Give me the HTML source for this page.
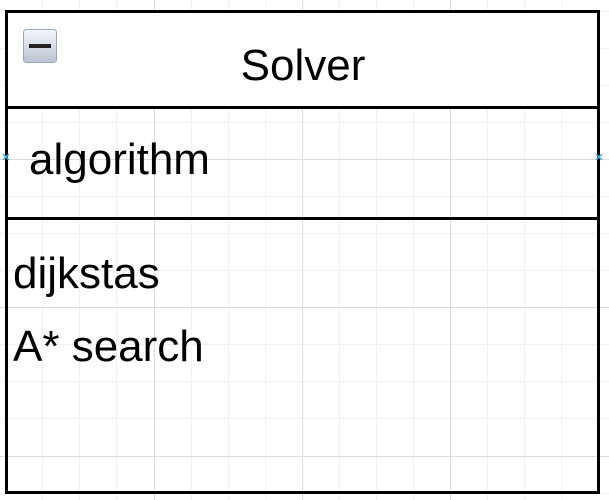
<!DOCTYPE html>
<html><head><meta charset="utf-8"><style>
html,body{margin:0;padding:0;background:#fff;width:609px;height:500px;overflow:hidden}
svg{display:block}
text{font-family:"Liberation Sans",Arial,sans-serif;font-size:44px;fill:#000}
</style></head><body>
<svg width="609" height="500" xmlns="http://www.w3.org/2000/svg">
<g stroke="#f1f1f1" stroke-width="1">
<line x1="42.5" y1="0" x2="42.5" y2="500"/><line x1="79.5" y1="0" x2="79.5" y2="500"/><line x1="116.5" y1="0" x2="116.5" y2="500"/>
<line x1="191.5" y1="0" x2="191.5" y2="500"/><line x1="228.5" y1="0" x2="228.5" y2="500"/><line x1="265.5" y1="0" x2="265.5" y2="500"/>
<line x1="339.5" y1="0" x2="339.5" y2="500"/><line x1="376.5" y1="0" x2="376.5" y2="500"/><line x1="413.5" y1="0" x2="413.5" y2="500"/>
<line x1="487.5" y1="0" x2="487.5" y2="500"/><line x1="524.5" y1="0" x2="524.5" y2="500"/><line x1="561.5" y1="0" x2="561.5" y2="500"/>
<line x1="0" y1="48.5" x2="609" y2="48.5"/><line x1="0" y1="85.5" x2="609" y2="85.5"/><line x1="0" y1="122.5" x2="609" y2="122.5"/>
<line x1="0" y1="196.5" x2="609" y2="196.5"/><line x1="0" y1="233.5" x2="609" y2="233.5"/><line x1="0" y1="270.5" x2="609" y2="270.5"/>
<line x1="0" y1="344.5" x2="609" y2="344.5"/><line x1="0" y1="381.5" x2="609" y2="381.5"/><line x1="0" y1="418.5" x2="609" y2="418.5"/>
<line x1="0" y1="11.5" x2="609" y2="11.5"/><line x1="0" y1="493.5" x2="609" y2="493.5"/>
</g>
<g stroke="#dcdcdc" stroke-width="1">
<line x1="154.5" y1="0" x2="154.5" y2="500"/><line x1="302.5" y1="0" x2="302.5" y2="500"/><line x1="450.5" y1="0" x2="450.5" y2="500"/>
<line x1="0" y1="159.5" x2="609" y2="159.5"/><line x1="0" y1="307.5" x2="609" y2="307.5"/><line x1="0" y1="456.5" x2="609" y2="456.5"/>
</g>
<rect x="6.5" y="11.5" width="592" height="481" fill="none" stroke="#000" stroke-width="3"/>
<rect x="6.5" y="11.5" width="592" height="96" fill="#fff" stroke="#000" stroke-width="3"/>
<line x1="6" y1="218.5" x2="599" y2="218.5" stroke="#000" stroke-width="3"/>
<defs><linearGradient id="g" x1="0" y1="0" x2="0" y2="1"><stop offset="0" stop-color="#f4f6fa"/><stop offset="1" stop-color="#b9c3d2"/></linearGradient></defs>
<rect x="23.5" y="29.5" width="33" height="33" rx="3" fill="url(#g)" stroke="#9aa8bc"/>
<rect x="29" y="44" width="22" height="4" fill="#222"/>
<text x="303" y="80" text-anchor="middle">Solver</text>
<text x="29" y="174">algorithm</text>
<text x="13" y="288">dijkstas</text>
<text x="13" y="361">A* search</text>
<g stroke="#3fb0e8" stroke-width="1.5">
<line x1="3" y1="154" x2="9" y2="160"/><line x1="9" y1="154" x2="3" y2="160"/>
<line x1="596" y1="154" x2="602" y2="160"/><line x1="602" y1="154" x2="596" y2="160"/>
</g>
</svg>
</body></html>
